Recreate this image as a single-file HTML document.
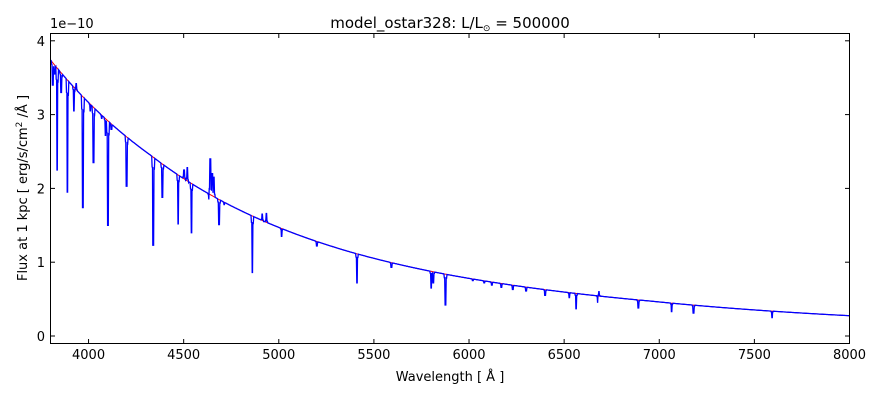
<!DOCTYPE html>
<html><head><meta charset="utf-8"><style>
body{margin:0;background:#fff;width:880px;height:400px;overflow:hidden}
text{font-family:"DejaVu Sans","Liberation Sans",sans-serif;font-size:13px;fill:#000}
</style></head><body>
<svg id="s" width="880" height="400" xmlns="http://www.w3.org/2000/svg">
<rect x="0" y="0" width="880" height="400" fill="#fff"/>
<defs><clipPath id="c"><rect x="50.5" y="33.5" width="799" height="310"/></clipPath></defs>
<g clip-path="url(#c)">
<path id="red" fill="none" stroke="#ff0000" stroke-width="1"/>
<path id="blue" fill="none" stroke="#0000ff" stroke-width="1.3"/>
</g>
<rect x="50.5" y="33.5" width="799" height="310" fill="none" stroke="#000" stroke-width="1"/>
<g id="ticks" stroke="#000" stroke-width="1"></g>
<g id="lbl"></g>
<text x="50" y="28" style="font-size:13px">1e−10</text>
<text x="450" y="28" text-anchor="middle" style="font-size:15px">model_ostar328: L/L<tspan style="font-size:9px" dy="3">⊙</tspan><tspan dy="-3"> = 500000</tspan></text>
<text x="450" y="381" text-anchor="middle">Wavelength [ Å ]</text>
<text transform="translate(27,188) rotate(-90)" text-anchor="middle">Flux at 1 kpc [ erg/s/cm<tspan style="font-size:9px" dy="-5">2</tspan><tspan dy="5"> /Å ]</tspan></text>
</svg>
<script>
var X=function(l){return 50.5+(l-3800)*799/4200;};
var Y=function(f){return 336-f*73.8;};
var K=[[3800,3.74],[4326,2.45],[4849,1.64],[5374,1.14],[5900,0.826],[6162,0.714],[6951,0.474],[8000,0.275]];
function F(l){for(var i=0;i<K.length-1;i++){if(l<=K[i+1][0]){var a=K[i],b=K[i+1];var t=(Math.log(l)-Math.log(a[0]))/(Math.log(b[0])-Math.log(a[0]));return Math.exp(Math.log(a[1])+t*(Math.log(b[1])-Math.log(a[1])));}}return K[K.length-1][1];}
var d='';for(var l=3800;l<=8000;l+=10){d+=(l==3800?'M':'L')+X(l).toFixed(1)+','+Y(F(l)).toFixed(1);}
document.getElementById('red').setAttribute('d',d);
var lines=[[3812,3.4],[3820,3.55],[3835,2.25],[3856,3.3],[3889,1.95],[3923,3.05],[3970,1.74],[4009,3.05],[4026,2.35],[4069,2.95],[4089,2.72],[4102,1.5],[4120,2.8],[4144,2.85],[4200,2.03],[4340,1.23],[4388,1.88],[4471,1.52],[4504,2.05],[4520,2.0],[4541,1.4],[4634,1.85],[4686,1.51],[4713,1.78],[4861,0.86],[4922,1.55],[5015,1.35],[5200,1.22],[5411,0.72],[5592,0.93],[5801,0.65],[5812,0.72],[5876,0.42],[6020,0.75],[6080,0.72],[6120,0.69],[6170,0.66],[6230,0.63],[6300,0.61],[6400,0.55],[6527,0.52],[6563,0.37],[6678,0.45],[6890,0.38],[7065,0.33],[7180,0.31],[7593,0.25]];
var em=[[3935,3.42],[4519,2.28],[4502,2.25],[4640,2.4],[4650,2.2],[4658,2.15],[4935,1.66],[4913,1.65],[6683,0.6]];
var pts=[];for(var l=3800;l<=8000;l+=2){pts.push([l,F(l)]);}
function apply(arr,isEm){arr.forEach(function(a){for(var i=0;i<pts.length;i++){var dl=Math.abs(pts[i][0]-a[0]);if(dl<=2){var v=a[1];pts[i][1]=isEm?Math.max(pts[i][1],v):Math.min(pts[i][1],v);}else if(dl<=6){var c=F(pts[i][0]);pts[i][1]=isEm?Math.max(pts[i][1],c+(a[1]-c)*0.15):Math.min(pts[i][1],c-(c-a[1])*0.12);}}});}
apply(lines,false);apply(em,true);
d='';pts.forEach(function(p,i){d+=(i?'L':'M')+X(p[0]).toFixed(1)+','+Y(p[1]).toFixed(1);});
document.getElementById('blue').setAttribute('d',d);
var t='',lb='';
for(var v=4000;v<=8000;v+=500){var x=X(v);t+='<line x1="'+x+'" y1="343.5" x2="'+x+'" y2="339"/><line x1="'+x+'" y1="33.5" x2="'+x+'" y2="38"/>';lb+='<text x="'+x+'" y="359" text-anchor="middle">'+v+'</text>';}
for(var f=0;f<=4;f++){var y=Y(f);t+='<line x1="50.5" y1="'+y+'" x2="55" y2="'+y+'"/><line x1="849.5" y1="'+y+'" x2="845" y2="'+y+'"/>';lb+='<text x="45" y="'+(y+5)+'" text-anchor="end">'+f+'</text>';}
document.getElementById('ticks').innerHTML=t;document.getElementById('lbl').innerHTML=lb;
</script>
</body></html>
